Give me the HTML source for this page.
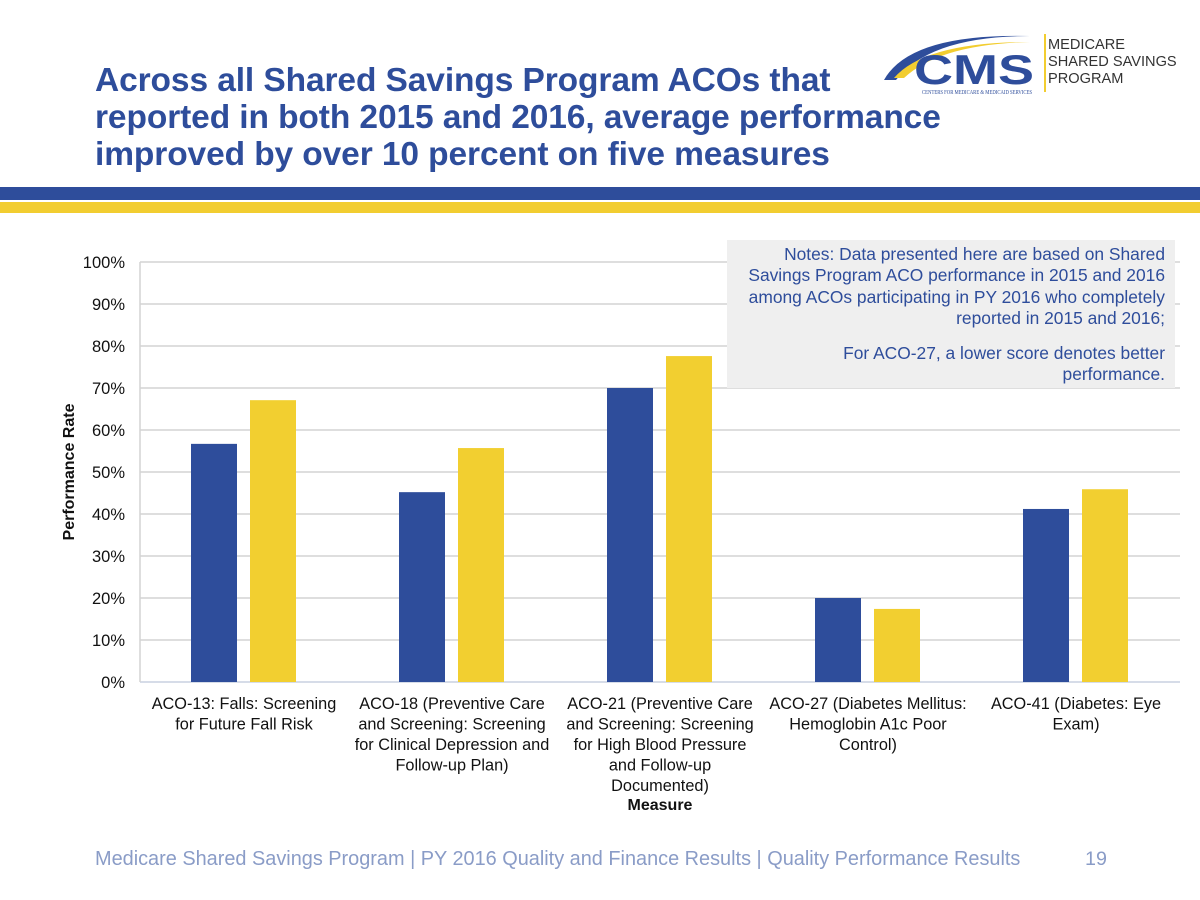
<!DOCTYPE html>
<html><head><meta charset="utf-8"><style>
body{margin:0;width:1200px;height:900px;background:#fff;font-family:"Liberation Sans",sans-serif;position:relative;overflow:hidden}
.abs{position:absolute}
</style></head><body>
<div class="abs" style="left:95px;top:62px;font-size:33.5px;font-weight:bold;color:#2e4d9b;line-height:37px;letter-spacing:-0.1px">Across all Shared Savings Program ACOs that<br>reported in both 2015 and 2016, average performance<br>improved by over 10 percent on five measures</div>
<svg class="abs" style="left:880px;top:28px" width="165" height="70">
<path d="M4 52 Q30 5 150 8 Q50 8 16 52Z" fill="#2e4d9b"/>
<path d="M14 50 Q45 14 150 14 Q60 16 24 50Z" fill="#f2cd30"/>
<text x="34" y="56" font-family="Liberation Sans" font-weight="bold" font-size="42" fill="#2e4d9b" textLength="120" lengthAdjust="spacingAndGlyphs">CMS</text>
<text x="42" y="66" font-family="Liberation Serif" font-size="6" fill="#2e4d9b" textLength="110" lengthAdjust="spacingAndGlyphs">CENTERS FOR MEDICARE &amp; MEDICAID SERVICES</text>
</svg>
<div class="abs" style="left:1044px;top:34px;width:2px;height:58px;background:#f2cd30"></div>
<div class="abs" style="left:1048px;top:37px;font-size:14.6px;line-height:17px;color:#333">MEDICARE<br>SHARED SAVINGS<br>PROGRAM</div>
<div class="abs" style="left:0;top:187px;width:1200px;height:13px;background:#2e4d9b"></div>
<div class="abs" style="left:0;top:202px;width:1200px;height:11px;background:#f2cd30"></div>
<svg class="abs" style="left:0;top:0" width="1200" height="900" id="chart"></svg>
<div class="abs" style="left:727px;top:240px;width:421px;height:148px;background:#efefef;padding:0 10px 0 17px;text-align:right;color:#2e4d9b;font-size:17.4px;line-height:21.3px">
<div style="margin-top:4px">Notes: Data presented here are based on Shared Savings Program ACO performance in 2015 and 2016 among ACOs participating in PY 2016 who completely reported in 2015 and 2016;</div>
<div style="margin-top:14px">For ACO-27, a lower score denotes better performance.</div></div>
<div class="abs" style="left:95px;top:848px;font-size:19.9px;color:#8a9cc7">Medicare Shared Savings Program | PY 2016 Quality and Finance Results | Quality Performance Results</div>
<div class="abs" style="left:1085px;top:848px;font-size:19.7px;color:#8a9cc7">19</div>
<script>
const categories=[["ACO-13: Falls: Screening","for Future Fall Risk"],["ACO-18 (Preventive Care","and Screening: Screening","for Clinical Depression and","Follow-up Plan)"],["ACO-21 (Preventive Care","and Screening: Screening","for High Blood Pressure","and Follow-up","Documented)"],["ACO-27 (Diabetes Mellitus:","Hemoglobin A1c Poor","Control)"],["ACO-41 (Diabetes: Eye","Exam)"]];
const values2015=[56.7,45.2,70.0,20.0,41.2];
const values2016=[67.1,55.7,77.6,17.4,45.9];
const yTicks=[0,10,20,30,40,50,60,70,80,90,100];
const svg=document.getElementById('chart');const NS='http://www.w3.org/2000/svg';
const L=140,R=1180,T=262,B=682;
const y=v=>B-(v/100)*(B-T);
const cw=(R-L)/categories.length;
const x=i=>L+i*cw;
function mk(t,a,txt){const e=document.createElementNS(NS,t);for(const k in a)e.setAttribute(k,a[k]);if(txt!=null)e.textContent=txt;svg.appendChild(e);return e;}
yTicks.forEach(v=>{
const g=mk('line',{x1:L,x2:R,y1:y(v),y2:y(v),stroke:v==0?'#c8d0e0':'#d4d4d4','stroke-width':1.5});


const t=mk('text',{x:125,y:y(v)+6,'text-anchor':'end','font-size':16.5,fill:'#111','font-family':'Liberation Sans'},v+'%');


});
const ax=mk('line',{x1:L,x2:L,y1:T,y2:B,stroke:'#d4d4d4','stroke-width':1.5});


categories.forEach((c,i)=>{
const b1=mk('rect',{x:x(i)+51,y:y(values2015[i]),width:46,height:B-y(values2015[i]),fill:'#2e4d9b'});


const b2=mk('rect',{x:x(i)+110,y:y(values2016[i]),width:46,height:B-y(values2016[i]),fill:'#f2cf30'});


c.forEach((ln,j)=>{const t=mk('text',{x:x(i)+cw/2,y:709+j*20.5,'text-anchor':'middle','font-size':16.3,fill:'#111','font-family':'Liberation Sans'},ln);

});
});
const xt=mk('text',{x:660,y:810,'text-anchor':'middle','font-size':16,'font-weight':'bold',fill:'#111','font-family':'Liberation Sans'},'Measure');


const yt=mk('text',{x:0,y:0,'text-anchor':'middle','font-size':16,'font-weight':'bold',fill:'#111','font-family':'Liberation Sans',transform:'translate(74,472) rotate(-90)'},'Performance Rate');


</script>
</body></html>
